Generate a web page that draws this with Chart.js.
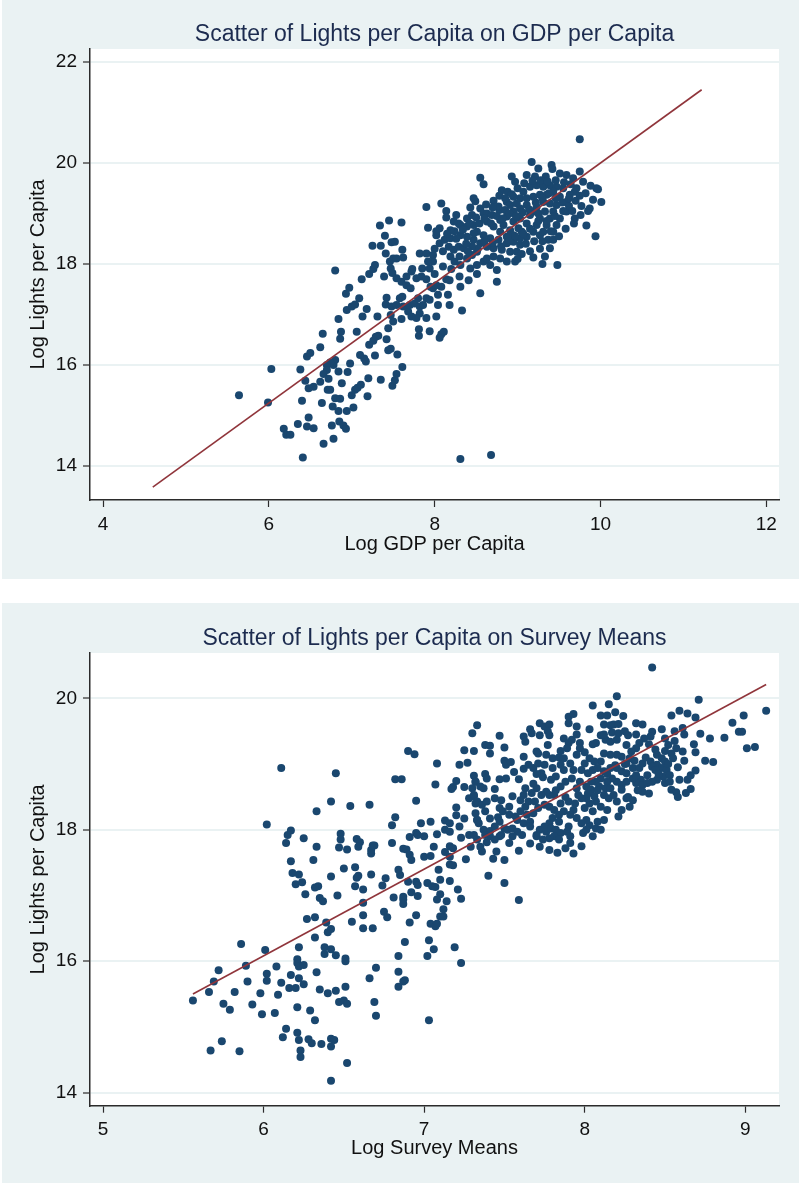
<!DOCTYPE html>
<html>
<head>
<meta charset="utf-8">
<title>Lights per Capita scatters</title>
<script src="https://cdn.jsdelivr.net/npm/chart.js@4.4.0/dist/chart.umd.min.js"></script>
<style>
  html, body { margin: 0; padding: 0; background: #fff; }
  body { width: 799px; height: 1183px; position: relative; overflow: hidden; }
  .panel { position: absolute; left: 2px; right: 0; background: #eaf2f3; }
  #panelTop { top: 0; height: 579px; }
  #panelBottom { top: 603px; height: 580px; }
  canvas { position: absolute; left: 0; }
  #gdpChart { top: 0; }
  #surveyChart { top: 603px; }
</style>
</head>
<body>
<div class="panel" id="panelTop"></div>
<div class="panel" id="panelBottom"></div>
<canvas id="gdpChart" width="799" height="579"></canvas>
<canvas id="surveyChart" width="799" height="580"></canvas>
<script>
// Top panel: log lights per capita vs log GDP per capita
const logGdp = [
  5.64,6.03,5.99,6.38,6.41,6.18,6.21,6.26,6.35,6.48,
  6.46,6.54,6.66,6.78,6.76,6.85,6.90,6.93,6.40,6.64,
  6.77,6.80,6.86,6.84,6.94,7.02,7.00,7.04,7.07,7.11,
  7.19,7.20,7.35,7.49,7.52,7.54,7.61,7.55,7.44,7.47,
  7.42,7.32,7.29,7.26,7.21,7.28,7.17,7.15,7.10,7.06,
  6.98,6.95,6.88,6.84,6.78,6.80,6.74,6.70,6.70,6.66,
  6.62,6.72,6.71,6.74,6.54,6.48,6.44,6.62,6.46,6.50,
  6.65,6.86,6.87,6.84,6.80,6.93,6.97,6.94,7.00,7.04,
  7.09,7.13,7.18,7.31,7.12,7.21,7.26,7.28,7.25,7.35,
  7.34,7.45,7.60,7.40,7.48,7.52,7.41,7.61,7.46,7.50,
  7.54,7.62,7.39,7.47,7.49,7.54,7.60,7.66,7.72,7.66,
  7.71,7.58,7.61,7.42,7.41,7.48,7.54,7.62,7.47,7.50,
  7.60,7.44,7.68,7.72,7.70,7.76,7.80,7.82,7.86,7.90,
  7.94,7.82,7.78,7.90,7.81,7.81,7.94,8.02,8.04,8.06,
  8.08,8.11,8.04,7.98,8.02,8.08,8.16,8.18,8.33,8.18,
  8.30,8.31,8.41,8.55,8.75,8.51,8.31,8.68,7.73,7.78,
  7.84,7.85,7.94,7.98,7.92,7.82,7.90,7.98,8.06,8.12,
  8.19,8.17,8.23,8.29,8.35,8.19,8.24,8.31,8.39,8.45,
  8.51,8.43,8.51,8.59,8.67,8.75,8.63,8.71,8.79,8.87,
  8.97,8.91,8.99,8.81,8.71,8.63,8.55,8.47,8.39,8.31,
  8.24,8.19,8.31,8.39,8.47,8.54,8.63,8.71,8.79,8.87,
  8.95,9.03,9.19,9.33,9.48,9.39,9.27,9.37,9.43,9.27,
  9.11,9.05,8.02,8.06,7.92,8.02,7.90,8.08,8.14,8.14,
  8.26,8.29,8.23,8.39,8.45,8.43,8.49,8.47,8.55,8.59,
  8.63,8.71,8.69,8.78,8.81,8.88,8.87,8.55,8.59,8.93,
  8.97,9.11,9.17,9.25,9.21,9.34,9.41,9.42,9.51,9.59,
  9.67,9.75,9.79,9.75,9.71,9.69,9.63,9.95,9.97,9.91,
  10.01,9.87,9.85,9.77,9.76,9.69,9.83,9.94,9.59,9.59,
  9.51,9.47,9.43,9.35,9.27,9.19,9.11,9.03,8.95,9.07,
  9.15,9.23,9.31,9.39,9.47,9.55,9.43,9.35,9.27,9.19,
  9.11,9.31,9.39,9.47,9.51,9.23,9.15,9.03,8.95,8.87,
  8.79,8.95,9.03,9.11,9.23,9.19,9.31,9.39,9.43,9.25,
  9.33,9.01,8.91,8.83,9.03,8.95,8.87,8.77,8.67,8.59,
  8.51,8.47,8.77,8.85,8.91,8.99,
  8.60,8.68,8.75,8.82,8.90,8.98,9.06,9.14,9.22,9.30,
  9.38,9.46,9.54,9.62,9.55,9.45,9.35,9.25,9.15,9.07,
  8.97,8.90,8.80,8.70,8.60,8.52,8.45,8.38,9.00,9.08,
  9.18,9.28,9.36,9.46,9.56,9.64,9.62,9.70,9.66,8.85,
  8.93,8.78,8.70,8.62,8.50,8.42,8.34,8.26,8.15,8.10,
  8.00,8.40,8.30,8.20,8.10,8.00,7.90,7.95,8.14,9.10,
  9.20,9.15,9.05,9.30,9.40,9.50,9.58,9.68,9.75,9.82,
  9.88,9.30,9.00
];
const lightsVsGdp = [
  15.40,15.92,15.26,15.91,14.17,14.74,14.62,14.62,14.83,14.96,
  14.78,14.75,14.44,14.54,14.80,14.88,14.80,14.74,15.29,15.25,
  15.18,15.34,15.33,15.09,15.09,15.16,15.40,15.51,15.55,15.61,
  15.38,15.74,15.71,15.59,15.70,15.82,15.96,16.21,16.29,16.32,
  16.51,16.58,16.56,16.48,16.40,16.19,16.07,16.13,16.20,16.66,
  16.03,15.86,15.64,15.87,16.00,16.10,16.05,16.00,15.90,15.82,
  15.67,15.73,15.51,15.51,15.57,15.54,15.69,16.35,16.17,16.24,
  16.62,16.52,16.66,16.91,17.87,17.41,17.53,17.09,17.16,17.20,
  17.32,16.96,17.11,16.96,17.70,17.80,17.90,17.98,18.36,18.36,
  18.76,18.86,18.82,18.56,18.43,18.44,18.21,18.28,18.05,18.11,
  18.11,18.13,17.75,17.91,17.82,17.72,17.65,17.75,17.85,17.58,
  17.52,17.32,17.35,17.33,17.20,17.16,17.19,17.16,16.99,16.86,
  16.91,16.73,17.06,16.96,17.19,17.22,17.32,17.16,17.19,17.32,
  17.29,17.02,16.93,16.93,16.71,16.58,16.67,16.96,17.19,16.54,
  16.61,16.66,17.39,17.52,17.58,17.55,17.39,17.19,17.08,17.68,
  17.75,17.55,17.68,17.42,17.65,17.80,14.14,14.22,17.90,17.72,
  17.75,17.91,17.91,18.05,18.05,18.21,18.21,18.18,18.41,18.48,
  18.51,18.34,18.28,18.34,18.31,18.15,18.05,17.98,18.11,18.18,
  18.24,17.91,17.98,18.05,17.98,17.88,18.11,18.15,18.11,18.05,
  18.05,18.24,18.24,18.28,18.31,18.34,18.41,18.48,18.54,18.57,
  18.65,18.67,18.77,18.74,18.77,18.80,18.84,18.74,18.64,18.54,
  18.44,18.38,18.13,18.15,17.98,18.31,18.30,18.48,18.48,18.57,
  18.54,18.64,18.57,18.71,18.72,18.65,19.13,19.20,19.05,18.92,
  18.97,18.80,18.84,18.90,18.97,19.12,19.24,19.30,19.10,19.00,
  19.00,19.25,18.97,19.07,19.46,19.43,19.23,19.71,19.58,19.73,
  19.63,19.76,20.02,19.89,19.73,19.73,19.96,19.88,19.79,19.76,
  19.70,19.83,19.63,20.47,19.50,19.43,19.37,19.50,19.48,19.27,
  19.23,19.10,19.05,19.15,18.97,18.90,18.76,18.55,19.23,19.04,
  18.90,18.77,18.64,18.77,18.90,19.04,19.17,19.30,19.33,19.43,
  19.53,19.56,19.53,19.56,19.53,19.50,19.43,19.37,19.37,19.33,
  19.30,19.23,19.20,19.17,19.33,19.13,18.97,19.10,19.04,18.94,
  18.87,18.84,18.90,18.80,18.77,18.64,18.64,18.90,19.04,19.00,
  19.04,18.71,18.67,18.77,18.51,18.57,18.41,18.48,18.51,18.57,
  18.64,18.61,19.14,19.07,19.17,19.20,
  18.90,18.80,18.95,18.90,19.00,18.95,19.02,19.08,19.22,19.30,
  19.40,19.30,19.22,19.15,19.05,18.95,18.85,18.85,18.70,18.60,
  18.55,18.45,18.35,18.42,18.45,18.30,18.35,18.40,19.50,19.60,
  19.65,19.66,19.64,19.66,19.62,19.58,19.30,19.25,19.05,19.30,
  19.38,19.35,19.12,19.18,18.92,18.80,18.68,18.50,18.60,18.25,
  18.30,18.25,18.15,17.90,17.95,17.80,17.70,17.55,17.70,18.40,
  18.45,18.25,18.20,18.45,18.65,18.55,18.70,18.80,19.35,19.40,
  19.55,18.00,18.10
];
const gdpFitX = [4.60, 11.22];
const gdpFitY = [13.58, 21.45];
const gdpXTicks = [4, 6, 8, 10, 12];
const gdpYTicks = [14, 16, 18, 20, 22];

// Bottom panel: log lights per capita vs log survey means
const logSurvey = [
  5.56,5.66,5.69,5.72,5.75,5.79,5.67,5.74,5.85,5.82,
  5.86,5.89,5.90,5.93,5.98,5.99,6.01,6.02,6.02,6.02,
  6.07,6.08,6.09,6.11,6.11,6.14,6.12,6.17,6.16,6.20,
  6.21,6.21,6.22,6.23,6.23,6.22,6.21,6.21,6.22,6.25,
  6.25,6.22,6.29,6.28,6.30,6.32,6.36,6.33,6.32,6.27,
  6.32,6.35,6.40,6.45,6.38,6.38,6.42,6.45,6.51,6.51,
  6.51,6.47,6.50,6.52,6.42,6.44,6.42,6.52,6.42,6.66,
  6.69,6.70,6.70,6.62,6.68,6.62,6.55,6.39,6.40,6.42,
  6.75,6.77,6.81,6.87,6.87,6.91,6.95,6.88,6.84,6.84,
  6.88,6.87,6.84,7.03,7.06,7.02,7.03,7.19,7.23,7.04,
  7.07,7.08,7.10,7.12,7.12,7.14,7.10,7.08,7.21,7.23,
  7.16,7.10,7.09,7.02,7.05,7.07,6.96,6.92,6.87,6.85,
  6.90,6.95,6.96,6.84,6.74,6.76,6.67,6.62,6.62,6.57,
  6.58,6.59,6.57,6.50,6.42,6.46,6.35,6.37,6.34,6.32,
  6.26,6.20,6.24,6.22,6.18,6.17,6.31,6.33,6.25,6.14,
  6.15,6.17,6.33,6.42,6.45,6.54,6.66,6.48,6.48,6.47,
  6.52,6.58,6.60,6.59,6.67,6.68,6.69,6.67,6.80,6.80,
  6.82,6.82,6.86,6.90,6.94,6.95,6.98,7.04,6.95,6.96,
  7.00,6.91,6.87,6.89,6.91,6.92,7.00,7.04,7.06,7.08,
  7.13,7.16,7.13,7.16,7.22,7.20,7.25,7.20,7.28,7.23,
  7.16,7.18,7.13,7.16,7.16,7.18,7.26,7.29,7.08,7.07,
  7.18,7.17,7.20,7.22,7.27,7.25,7.25,7.31,7.30,7.33,
  7.31,7.32,7.28,7.31,7.32,7.33,
  8.42,7.47,7.38,7.41,7.41,7.50,7.50,7.51,7.54,7.38,
  7.39,7.47,7.51,7.32,7.35,7.37,7.31,7.33,7.38,7.44,
  7.47,7.46,7.33,7.34,7.37,7.39,7.41,7.44,7.47,7.50,
  7.52,7.55,7.53,7.55,7.59,7.62,7.62,7.62,7.63,7.66,
  7.67,7.72,7.72,7.75,7.78,7.77,7.78,7.70,7.71,7.76,
  7.77,7.75,7.80,7.65,7.68,7.71,7.73,7.80,7.84,7.87,
  7.87,7.90,7.89,7.92,7.90,7.93,7.95,7.90,7.97,7.97,
  7.95,8.00,8.03,8.05,8.10,8.14,8.12,8.16,8.15,8.20,
  8.19,8.24,8.18,8.21,8.17,8.21,8.10,8.07,8.13,8.16,
  8.20,8.27,8.26,8.32,8.36,8.42,8.41,8.37,8.34,8.32,
  8.29,8.28,8.26,8.23,8.20,8.16,8.12,8.10,8.06,8.03,
  8.00,7.98,7.93,7.91,7.87,7.85,7.82,7.79,7.88,7.85,
  7.92,7.95,7.97,8.02,8.05,8.08,8.12,8.16,8.20,8.23,
  8.26,8.30,8.34,8.36,8.41,8.45,8.48,8.45,8.42,8.39,
  8.35,8.32,8.30,8.36,8.32,8.26,8.23,8.20,8.17,8.14,
  8.10,8.07,8.04,8.01,8.04,8.09,8.13,8.16,8.12,8.15,
  8.18,8.20,8.23,8.14,8.10,8.07,8.06,8.03,8.01,7.98,
  7.96,8.00,8.05,8.08,8.07,8.03,8.01,7.99,8.01,7.93,
  7.95,7.91,7.87,7.90,7.85,7.81,7.78,7.76,7.73,7.70,
  7.67,7.63,7.62,7.65,7.63,7.69,7.71,7.75,7.78,7.81,
  7.84,7.80,7.84,7.78,7.75,7.72,7.70,7.76,7.79,7.82,
  7.85,7.81,7.78,7.89,7.91,7.91,7.93,7.83,7.78,7.72,
  7.66,7.59,7.61,7.58,7.55,7.50,7.43,7.45,7.36,7.35,
  7.39,7.40,7.50,7.59,8.48,8.50,8.54,8.59,8.64,8.69,
  8.71,8.56,8.61,8.62,8.52,8.54,8.57,8.61,8.69,8.55,
  8.50,8.48,8.51,8.49,8.53,8.50,8.53,8.54,8.57,8.63,
  8.59,8.64,8.66,8.69,8.72,8.78,8.80,8.87,8.92,8.96,
  8.98,8.99,9.01,9.06,9.13,8.44,8.45,8.42,8.39,8.36,
  8.26,8.27,8.23,7.30,7.32,7.36,7.39,7.41,7.47,7.49,
  7.53,7.58,7.60,7.62,7.64,7.66,7.68,7.53,7.31,7.33,
  7.38,7.41,7.44,7.48,7.70,
  7.60,7.68,7.74,7.82,7.88,7.94,8.02,8.08,8.14,8.19,
  8.25,8.31,8.38,8.44,8.50,8.56,8.46,8.52,8.58,8.40,
  8.33,8.28,8.21,8.12,8.05,7.98,7.90,7.84,7.74,7.66,
  7.57,7.48,7.44,7.56,7.70,7.85,7.95,8.05,8.12,8.25,
  8.32,8.40,8.62,8.68,8.75,8.66,8.58,8.30,7.88,7.98,
  8.10
];
const lightsVsSurvey = [
  15.40,15.53,15.69,15.86,15.35,15.26,14.64,14.78,14.63,15.53,
  16.26,15.93,15.69,15.34,15.51,15.19,16.17,15.81,15.70,18.08,
  15.21,15.92,15.49,18.94,15.67,14.97,14.84,15.79,15.59,15.59,
  15.30,14.91,14.80,14.64,14.54,15.74,16.03,15.97,15.92,15.94,
  15.65,16.21,15.25,14.81,14.75,15.10,14.74,15.83,16.36,16.64,
  16.67,15.57,15.51,15.55,16.21,16.11,16.18,16.09,16.04,16.00,
  15.61,15.38,15.40,15.35,14.82,14.80,14.70,14.45,14.18,15.74,
  15.38,15.17,15.90,16.50,16.50,16.70,16.60,16.59,16.44,16.49,
  16.75,16.67,16.97,16.98,16.87,16.59,16.70,16.29,16.08,15.84,
  15.71,15.69,15.61,16.32,16.18,16.08,15.10,16.21,15.97,16.57,
  16.53,16.57,16.68,16.68,16.79,16.91,17.02,16.94,17.09,16.95,
  17.22,17.24,17.39,17.19,17.14,17.13,16.99,17.05,16.94,17.31,
  17.21,17.21,17.16,17.39,17.15,17.26,17.32,16.89,17.09,17.14,
  17.27,17.30,17.43,17.41,17.29,17.00,16.96,16.91,17.14,17.12,
  17.02,17.17,17.20,17.32,17.34,17.52,17.54,17.74,17.87,17.80,
  17.92,17.99,18.28,18.43,18.86,18.36,18.38,17.94,17.85,17.73,
  17.70,17.86,17.81,17.74,17.69,17.76,17.76,17.64,17.80,18.07,
  18.19,18.77,18.77,19.20,19.15,18.44,18.10,18.12,17.95,17.92,
  17.90,17.89,17.71,17.70,17.62,17.54,17.59,17.60,17.74,17.93,
  18.14,18.10,18.00,17.97,18.05,18.22,18.17,18.34,17.92,17.88,
  17.75,17.72,17.66,17.59,17.47,17.46,17.55,17.74,19.01,18.69,
  18.65,18.62,18.74,18.99,19.02,18.65,19.21,19.20,19.47,19.59,
  18.82,18.73,18.48,18.51,18.40,18.15,
  20.47,19.43,19.29,19.28,19.16,19.25,19.05,18.99,19.03,18.85,
  18.78,18.77,18.78,18.73,18.66,18.63,18.53,18.43,18.28,18.48,
  18.33,18.19,18.15,18.10,18.00,17.97,17.98,18.05,17.90,18.02,
  18.00,18.02,18.35,18.51,18.77,18.93,19.11,19.42,19.34,19.53,
  19.47,19.62,19.44,19.57,19.60,19.50,19.44,19.19,19.16,19.14,
  19.29,18.99,19.09,18.99,18.94,19.01,18.86,18.94,19.10,19.09,
  19.39,19.32,19.24,19.37,19.72,19.76,19.57,19.62,19.32,19.24,
  19.14,19.18,19.53,19.89,19.74,19.74,19.60,19.59,19.91,20.03,
  19.79,19.73,19.60,19.61,19.48,19.47,19.44,19.32,19.37,19.34,
  19.37,19.44,19.29,19.62,19.60,19.49,19.42,19.39,19.32,19.24,
  19.19,19.09,19.01,19.11,19.14,19.14,19.16,19.04,19.04,19.09,
  19.01,18.91,18.91,19.01,18.91,18.99,18.81,18.76,18.73,18.66,
  18.78,18.63,18.73,18.86,18.91,18.94,18.89,18.94,18.94,18.89,
  18.86,18.94,18.94,19.01,19.04,19.14,19.09,18.99,18.96,18.83,
  18.76,18.71,18.78,18.68,18.83,18.73,18.68,18.73,18.78,18.73,
  18.78,18.73,18.73,18.66,18.61,18.66,18.63,18.63,18.53,18.48,
  18.53,18.43,18.30,18.30,18.35,18.43,18.51,18.40,18.48,18.48,
  18.53,18.33,18.28,18.12,18.02,18.07,18.15,17.95,18.00,18.30,
  18.18,18.23,18.28,18.43,18.40,18.53,18.53,18.58,18.53,18.63,
  18.56,18.63,18.53,18.43,18.35,18.43,18.33,18.38,18.35,18.30,
  18.23,18.18,18.12,18.10,18.05,18.00,17.92,17.97,18.02,18.00,
  17.95,17.90,17.87,17.97,17.90,17.80,17.64,17.65,17.69,17.74,
  17.79,17.68,17.92,17.97,17.90,17.54,17.56,17.67,17.67,17.74,
  17.81,17.30,17.19,16.93,19.53,19.39,19.74,19.81,19.77,19.71,
  19.98,19.50,19.55,19.45,19.29,19.16,19.24,19.19,19.18,19.09,
  19.04,18.94,18.91,18.81,18.83,18.71,18.73,18.61,18.57,18.56,
  18.76,18.76,18.83,18.90,19.46,19.39,19.03,19.40,19.63,19.49,
  19.49,19.74,19.24,19.26,19.81,18.91,18.76,18.73,18.71,18.58,
  18.48,18.50,18.61,18.63,18.25,18.38,18.43,18.17,18.12,18.28,
  18.23,18.15,18.28,18.10,18.23,18.12,18.25,17.80,17.92,17.85,
  17.92,17.90,17.85,17.92,17.90,
  18.45,18.70,18.80,18.60,18.50,18.40,18.55,18.60,18.85,18.98,
  19.00,19.05,19.10,19.22,19.20,19.35,18.85,19.00,18.95,18.55,
  18.60,18.35,18.20,18.15,17.90,18.10,18.05,17.85,17.85,18.05,
  18.20,18.45,18.62,18.88,18.85,19.20,19.45,19.30,19.45,19.50,
  19.45,19.30,19.05,19.30,19.05,18.62,18.50,18.45,17.72,17.75,
  18.00
];
const surveyFitX = [5.56, 9.13];
const surveyFitY = [15.50, 20.21];
const surveyXTicks = [5, 6, 7, 8, 9];
const surveyYTicks = [14, 16, 18, 20];

const FONT = "'Liberation Sans', Arial, Helvetica, sans-serif";
const MARKER = '#1a476f';
const FITLINE = '#90353b';
const GRID = '#eaf2f3';
const AXIS = '#2b2b2b';

Chart.defaults.font.family = FONT;

// white plot region, the rest of the canvas stays transparent over the panel
const plotBackground = {
  id: 'plotBackground',
  beforeDraw(chart) {
    const { ctx, chartArea: a } = chart;
    ctx.save();
    ctx.fillStyle = '#ffffff';
    ctx.fillRect(a.left, a.top, a.right - a.left, a.bottom - a.top);
    ctx.restore();
  }
};

function pairs(xs, ys) {
  return xs.map((x, i) => ({ x: x, y: ys[i] }));
}

function makeScatter(id, cfg) {
  return new Chart(document.getElementById(id), {
    type: 'scatter',
    data: {
      datasets: [
        {
          data: pairs(cfg.fitX, cfg.fitY),
          showLine: true,
          borderColor: FITLINE,
          borderWidth: 1.6,
          pointRadius: 0,
          order: 0
        },
        {
          data: pairs(cfg.xs, cfg.ys),
          backgroundColor: MARKER,
          borderWidth: 0,
          pointRadius: 4,
          order: 1
        }
      ]
    },
    options: {
      responsive: false,
      animation: false,
      layout: { padding: { left: 0, right: 20, top: 0, bottom: 0 } },
      plugins: {
        legend: { display: false },
        tooltip: { enabled: false },
        title: {
          display: true,
          text: cfg.title,
          fullSize: false,
          color: '#1c2b4f',
          font: { size: 23, weight: 'normal' },
          padding: cfg.titlePad
        }
      },
      scales: {
        x: {
          type: 'linear',
          min: cfg.xRange[0],
          max: cfg.xRange[1],
          afterBuildTicks: s => { s.ticks = cfg.xTicks.map(v => ({ value: v })); },
          afterFit: s => { s.height = cfg.xAxisHeight; },
          grid: { drawOnChartArea: false, drawTicks: true, tickLength: 7, tickColor: AXIS, tickWidth: 1.2 },
          border: { display: true, color: AXIS, width: 1.5 },
          ticks: { color: '#111', font: { size: 19 }, padding: 6, maxRotation: 0, autoSkip: false },
          title: { display: true, text: cfg.xTitle, color: '#111', font: { size: 20 }, padding: { top: 0, bottom: 23 } }
        },
        y: {
          type: 'linear',
          min: cfg.yRange[0],
          max: cfg.yRange[1],
          afterBuildTicks: s => { s.ticks = cfg.yTicks.map(v => ({ value: v })); },
          afterFit: s => { s.width = 90; },
          grid: { color: GRID, lineWidth: 2, tickLength: 7, tickColor: AXIS, tickWidth: 1.2 },
          border: { display: true, color: AXIS, width: 1.5 },
          ticks: { color: '#111', font: { size: 19 }, padding: 6, autoSkip: false },
          title: { display: true, text: 'Log Lights per Capita', color: '#111', font: { size: 20 }, padding: { top: 26, bottom: 0 } }
        }
      }
    },
    plugins: [plotBackground]
  });
}

makeScatter('gdpChart', {
  xs: logGdp, ys: lightsVsGdp,
  fitX: gdpFitX, fitY: gdpFitY,
  xTicks: gdpXTicks, yTicks: gdpYTicks,
  xRange: [3.843, 12.153], yRange: [13.327, 22.257],
  title: 'Scatter of Lights per Capita on GDP per Capita',
  xTitle: 'Log GDP per Capita',
  titlePad: { top: 20.5, bottom: 0.9 },
  xAxisHeight: 79
});

makeScatter('surveyChart', {
  xs: logSurvey, ys: lightsVsSurvey,
  fitX: surveyFitX, fitY: surveyFitY,
  xTicks: surveyXTicks, yTicks: surveyYTicks,
  xRange: [4.919, 9.21], yRange: [13.80, 20.69],
  title: 'Scatter of Lights per Capita on Survey Means',
  xTitle: 'Log Survey Means',
  titlePad: { top: 22, bottom: 0.4 },
  xAxisHeight: 77.3
});
</script>
</body>
</html>
